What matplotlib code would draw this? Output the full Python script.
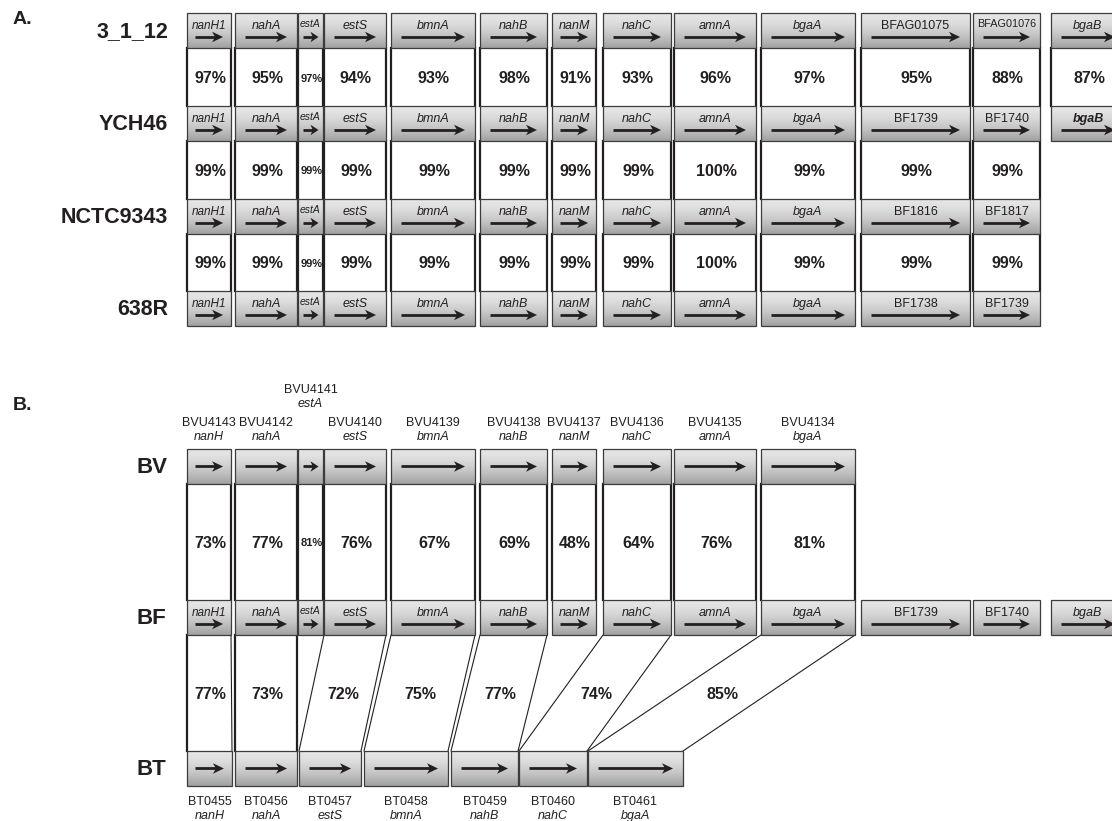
import numpy as np
import matplotlib.pyplot as plt
from matplotlib.patches import Polygon, Rectangle

plt.rcParams['font.family'] = ['Liberation Sans', 'DejaVu Sans']
INK = '#231f20'
BOX_H = 35

# conserved part of the locus, shared by every B. fragilis strain and BV
core_genes = ["nanH1", "nahA", "estA", "estS", "bmnA", "nahB", "nanM", "nahC", "amnA", "bgaA"]
core_start = [187, 235, 298, 324, 391, 480, 552, 603, 674, 761]
core_end = [231, 297, 323, 386, 475, 547, 596, 671, 756, 855]

# genes downstream of bgaA
tail_start = [861, 973, 1051]
tail_end = [970, 1040, 1125]

strains = ["3_1_12", "YCH46", "NCTC9343", "638R"]
tail_names = [
    ["BFAG01075", "BFAG01076", "bgaB"],
    ["BF1739", "BF1740", "bgaB"],
    ["BF1816", "BF1817"],
    ["BF1738", "BF1739"],
]
ident_a = [
    [97, 95, 97, 94, 93, 98, 91, 93, 96, 97, 95, 88, 87],
    [99, 99, 99, 99, 99, 99, 99, 99, 100, 99, 99, 99],
    [99, 99, 99, 99, 99, 99, 99, 99, 100, 99, 99, 99],
]

# panel B: B. vulgatus / B. fragilis / B. thetaiotaomicron
bv_ids = ["BVU4143", "BVU4142", "BVU4141", "BVU4140", "BVU4139",
          "BVU4138", "BVU4137", "BVU4136", "BVU4135", "BVU4134"]
bv_names = ["nanH", "nahA", "estA", "estS", "bmnA", "nahB", "nanM", "nahC", "amnA", "bgaA"]
ident_bv_bf = [73, 77, 81, 76, 67, 69, 48, 64, 76, 81]

bf_tail = ["BF1739", "BF1740", "bgaB"]

bt_ids = ["BT0455", "BT0456", "BT0457", "BT0458", "BT0459", "BT0460", "BT0461"]
bt_names = ["nanH", "nahA", "estS", "bmnA", "nahB", "nahC", "bgaA"]
bt_start = [187, 235, 299, 364, 451, 519, 588]
bt_end = [232, 297, 361, 448, 518, 587, 683]
bt_match = [0, 1, 3, 4, 5, 7, 9]
ident_bf_bt = [77, 73, 72, 75, 77, 74, 85]

fig = plt.figure(figsize=(11.12, 8.21), dpi=100)
ax = fig.add_axes([0, 0, 1, 1])

shade = (0.90 - 0.27 * np.linspace(0, 1, 64) ** 1.6)[:, None, None] * np.ones((1, 1, 3))


def gene(x0, x1, top, label=None, size=9, style='italic', weight='normal', base=16):
    ax.imshow(shade, extent=(x0, x1, top + BOX_H, top), aspect='auto',
              interpolation='bilinear', zorder=2)
    ax.add_patch(Rectangle((x0, top), x1 - x0, BOX_H, fill=False,
                           ec='#3c3c3c', lw=0.9, zorder=3))
    w = x1 - x0
    m = min(10, 0.18 * w)
    xa, xb = x0 + m, x1 - m
    ya = top + 24 if label else top + BOX_H / 2
    hl = min(11, 0.5 * (xb - xa))
    hw = 10.5
    ax.plot([xa, xb - 0.6 * hl], [ya, ya], color=INK, lw=2.0,
            solid_capstyle='butt', zorder=4)
    ax.add_patch(Polygon([(xb, ya), (xb - hl, ya - hw / 2), (xb - 0.72 * hl, ya),
                          (xb - hl, ya + hw / 2)], closed=True, fc=INK, ec='none', zorder=4))
    if label:
        ax.text((x0 + x1) / 2, top + base, label, ha='center', va='baseline',
                fontsize=size, style=style, fontweight=weight, color=INK, zorder=5)


def link(a0, a1, ya, b0, b1, yb, pct, small=False):
    ax.add_patch(Polygon([(a0, ya), (a1, ya), (b1, yb), (b0, yb)], closed=True,
                         fc='white', ec='none', zorder=1))
    for xt, xm in ((a0, b0), (a1, b1)):
        ax.plot([xt, xm], [ya, yb], color=INK, lw=1.6 if xt == xm else 0.8, zorder=1.5)
    ax.text((a0 + a1 + b0 + b1) / 4 + 1, (ya + yb) / 2 + 1.5, f'{pct}%',
            ha='center', va='center', fontsize=8 if small else 11.5,
            fontweight='bold', color=INK)


def label_style(name, width):
    # locus tags are upright, gene symbols italic; long tags shrink in narrow boxes
    if name.startswith('BF'):
        cramped = len(name) > 7 and width < 80
        return dict(style='normal', size=7.8 if cramped else 9,
                    base=14 if cramped else 16)
    if name == 'estA':
        return dict(size=7.5, base=14)
    if name == 'nanH1':
        return dict(size=8.5)
    return {}


# ---- panel A ----
tops_a = [13, 106, 199, 291]
ax.text(13, 20, 'A.', fontsize=14, fontweight='bold', color=INK, va='center')
for r, (strain, top) in enumerate(zip(strains, tops_a)):
    ax.text(168, top + BOX_H / 2 + 1, strain, ha='right', va='center',
            fontsize=15.5, fontweight='bold', color=INK)
    names = core_genes + tail_names[r]
    starts = core_start + tail_start[:len(tail_names[r])]
    ends = core_end + tail_end[:len(tail_names[r])]
    for i, (nm, x0, x1) in enumerate(zip(names, starts, ends)):
        kw = label_style(nm, x1 - x0)
        if r == 1 and nm == 'bgaB':
            kw['weight'] = 'bold'
        gene(x0, x1, top, nm, **kw)

for r, pcts in enumerate(ident_a):
    starts = core_start + tail_start
    ends = core_end + tail_end
    for i, p in enumerate(pcts):
        link(starts[i], ends[i], tops_a[r] + BOX_H, starts[i], ends[i], tops_a[r + 1],
             p, small=core_genes[i] == 'estA' if i < len(core_genes) else False)

# ---- panel B ----
top_bv, top_bf, top_bt = 449, 600, 751
ax.text(13, 406, 'B.', fontsize=14, fontweight='bold', color=INK, va='center')
for name, top in (('BV', top_bv), ('BF', top_bf), ('BT', top_bt)):
    ax.text(137, top + BOX_H / 2 + 1, name, ha='left', va='center',
            fontsize=16, fontweight='bold', color=INK)

for i, (x0, x1) in enumerate(zip(core_start, core_end)):
    gene(x0, x1, top_bv)
    raise_by = 33 if bv_names[i] == 'estA' else 0
    cx = (x0 + x1) / 2
    ax.text(cx, 426 - raise_by, bv_ids[i], ha='center', va='baseline', fontsize=9, color=INK)
    ax.text(cx, 440 - raise_by, bv_names[i], ha='center', va='baseline', fontsize=9,
            style='italic', color=INK)
    link(x0, x1, top_bv + BOX_H, x0, x1, top_bf, ident_bv_bf[i], small=bv_names[i] == 'estA')

for nm, x0, x1 in zip(core_genes + bf_tail, core_start + tail_start, core_end + tail_end):
    gene(x0, x1, top_bf, nm, **label_style(nm, x1 - x0))

for j, (x0, x1) in enumerate(zip(bt_start, bt_end)):
    gene(x0, x1, top_bt)
    cx = (x0 + x1) / 2
    ax.text(cx, 805, bt_ids[j], ha='center', va='baseline', fontsize=9, color=INK)
    ax.text(cx, 819, bt_names[j], ha='center', va='baseline', fontsize=9,
            style='italic', color=INK)
    k = bt_match[j]
    link(core_start[k], core_end[k], top_bf + BOX_H, x0, x1, top_bt, ident_bf_bt[j])

ax.set_xlim(0, 1112)
ax.set_ylim(821, 0)
ax.axis('off')
fig.savefig('out.png', dpi=100, facecolor='white')
